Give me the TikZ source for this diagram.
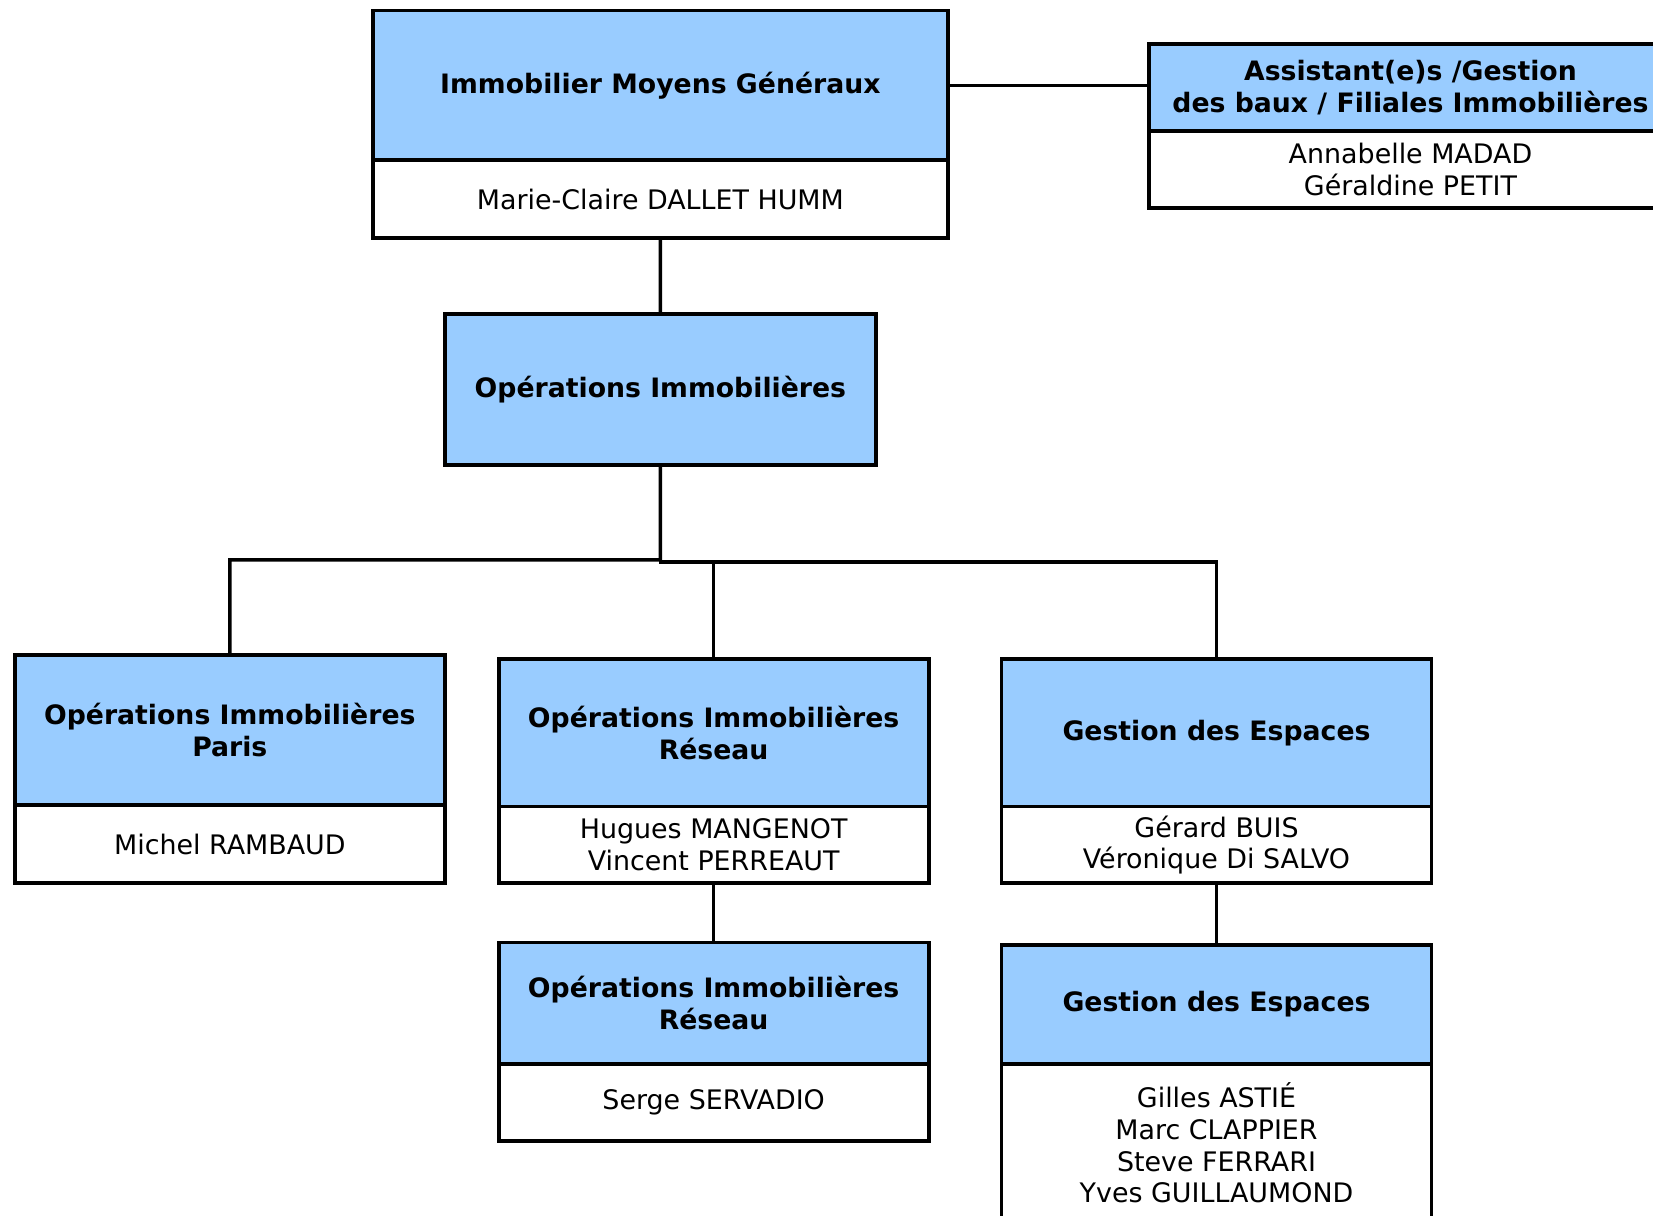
\documentclass[tikz,border=0pt]{standalone}
\usepackage{fontspec}
\setmainfont{DejaVu Sans}
\definecolor{boxblue}{HTML}{99CCFF}
\begin{document}
\begin{tikzpicture}[x=0.02cm, y=-0.02cm,
  every node/.style={font=\fontsize{15.3}{18}\selectfont},
  titlebox/.style={draw, line width=2.2pt, fill=boxblue, align=center, inner sep=0pt, outer sep=0pt, anchor=north west, font=\fontsize{15.2}{18}\selectfont\bfseries},
  namebox/.style={draw, line width=2.2pt, fill=white, align=center, inner sep=0pt, outer sep=0pt, anchor=north},
  link/.style={line width=2pt}]
\useasboundingbox (0,0) rectangle (1653,1215);
\clip (0,0) rectangle (1653,1215);
\fill[white] (0,0) rectangle (1653,1215);
\coordinate (jL) at (660.45,559.8);
\coordinate (jR) at (660.45,561.9);
% boxes
\node[titlebox, minimum width=11.49cm, minimum height=2.994cm] (top) at (373.2,10.5) {Immobilier Moyens Généraux};
\node[namebox, minimum width=11.49cm, minimum height=1.562cm] (topn) at (top.south) {Marie-Claire DALLET HUMM};
\node[titlebox, minimum width=10.456cm, minimum height=1.728cm] (asst) at (1149.1,44.3) {Assistant(e)s /Gestion\\des baux / Filiales Immobilières};
\node[namebox, minimum width=10.456cm, minimum height=1.54cm] (asstn) at (asst.south) {Annabelle MADAD\\Géraldine PETIT};
\node[titlebox, minimum width=8.622cm, minimum height=3.014cm] (ops) at (444.9,314.2) {Opérations Immobilières};
\node[titlebox, minimum width=8.602cm, minimum height=3.014cm] (paris) at (14.8,654.7) {Opérations Immobilières\\Paris};
\node[namebox, minimum width=8.602cm, minimum height=1.56cm] (parisn) at (paris.south) {Michel RAMBAUD};
\node[titlebox, minimum width=8.604cm, minimum height=2.952cm] (res) at (498.6,658.9) {Opérations Immobilières\\Réseau};
\node[namebox, minimum width=8.604cm, minimum height=1.538cm] (resn) at (res.south) {Hugues MANGENOT\\Vincent PERREAUT};
\node[titlebox, minimum width=8.602cm, minimum height=2.952cm] (gest) at (1001.5,658.9) {Gestion des Espaces};
\node[namebox, minimum width=8.602cm, minimum height=1.538cm] (gestn) at (gest.south) {Gérard BUIS\\Véronique Di SALVO};
\node[titlebox, minimum width=8.604cm, minimum height=2.424cm] (res2) at (498.6,942.5) {Opérations Immobilières\\Réseau};
\node[namebox, minimum width=8.604cm, minimum height=1.54cm] (res2n) at (res2.south) {Serge SERVADIO};
\node[titlebox, minimum width=8.602cm, minimum height=2.382cm] (gest2) at (1001.5,944.6) {Gestion des Espaces};
\node[namebox, minimum width=8.602cm, minimum height=3.17cm] (gest2n) at (gest2.south) {Gilles ASTIÉ\\Marc CLAPPIER\\Steve FERRARI\\Yves GUILLAUMOND};
% connectors
\draw[link] (top.east) -- (asst.west |- top.east);
\draw[link] (topn.south) -- (ops.north);
\draw[link] (ops.south) -- (jL) -| (paris.north);
\draw[link] (jL) -- (jR) -| (gest.north);
\draw[link] (jR -| res.north) -- (res.north);
\draw[link] (resn.south) -- (res2.north);
\draw[link] (gestn.south) -- (gest2.north);
\end{tikzpicture}
\end{document}
